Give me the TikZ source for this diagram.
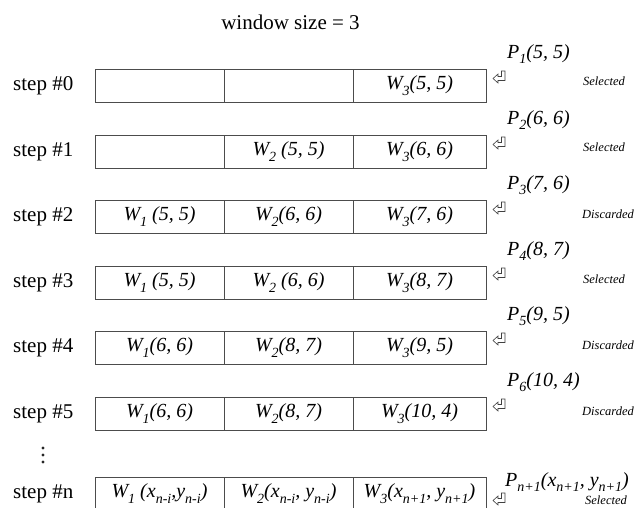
\documentclass[tikz,border=0pt]{standalone}
\usepackage{fontspec}
\setmainfont{Liberation Serif}
\newcommand\lsub[1]{\raisebox{-0.28em}{\fontsize{14}{14}\selectfont #1}}
\begin{document}
\begin{tikzpicture}[x=1pt,y=-1pt,
  cell/.style={draw=black!70, line width=0.8pt, minimum height=33pt, anchor=north west,
    inner sep=0, outer sep=0, font=\fontsize{20}{24}\selectfont\itshape},
  cw/.style={cell, minimum width=129pt},
  cwl/.style={cell, minimum width=133pt},
  lbl/.style={font=\fontsize{21}{24}\selectfont, anchor=west, inner sep=0},
  pl/.style={font=\fontsize{20}{24}\selectfont\itshape, anchor=base west, inner sep=0},
  sl/.style={font=\fontsize{12.5}{14}\selectfont\itshape, inner sep=0},
  dotn/.style={circle, fill=black!85, inner sep=0, minimum size=3.2pt},
  retic/.style={draw=black!75, line width=0.6pt, line join=miter},
  retn/.pic={\draw[retic] (8.5,0) -- (12,0) -- (12,9.5) -- (5,9.5) -- (5,12) -- (0,7.5) -- (5,3) -- (5,5.5) -- (8.5,5.5) -- cycle;}
]
\useasboundingbox (0,0) rectangle (636,507);
\clip (0,0) rectangle (636,507);

\node[font=\fontsize{21}{24}\selectfont, inner sep=0] (title) at (290.5,22) {window size = 3};

% step 0
\node[lbl] (s0) at (13,85.5) {step \#0};
\node[cw] (r0a) at (95,69) {};
\node[cw] (r0b) at (224,69) {};
\node[cwl] (r0c) at (353,69) {W\lsub{3}(5, 5)};
\pic at (493,71) {retn};
\node[pl] (p0) at (507,58) {P\lsub{1}(5, 5)};
\node[sl] (q0) at (604,81) {Selected};

% step 1
\node[lbl] (s1) at (13,151.5) {step \#1};
\node[cw] (r1a) at (95,135) {};
\node[cw] (r1b) at (224,135) {W\lsub{2} (5, 5)};
\node[cwl] (r1c) at (353,135) {W\lsub{3}(6, 6)};
\pic at (493,137) {retn};
\node[pl] (p1) at (507,124) {P\lsub{2}(6, 6)};
\node[sl] (q1) at (604,147) {Selected};

% step 2
\node[lbl] (s2) at (13,216.5) {step \#2};
\node[cw] (r2a) at (95,200) {W\lsub{1} (5, 5)};
\node[cw] (r2b) at (224,200) {W\lsub{2}(6, 6)};
\node[cwl] (r2c) at (353,200) {W\lsub{3}(7, 6)};
\pic at (493,202) {retn};
\node[pl] (p2) at (507,189) {P\lsub{3}(7, 6)};
\node[sl] (q2) at (608,214) {Discarded};

% step 3
\node[lbl] (s3) at (13,282.5) {step \#3};
\node[cw] (r3a) at (95,266) {W\lsub{1} (5, 5)};
\node[cw] (r3b) at (224,266) {W\lsub{2} (6, 6)};
\node[cwl] (r3c) at (353,266) {W\lsub{3}(8, 7)};
\pic at (493,268) {retn};
\node[pl] (p3) at (507,255) {P\lsub{4}(8, 7)};
\node[sl] (q3) at (604,279) {Selected};

% step 4
\node[lbl] (s4) at (13,347.5) {step \#4};
\node[cw] (r4a) at (95,331) {W\lsub{1}(6, 6)};
\node[cw] (r4b) at (224,331) {W\lsub{2}(8, 7)};
\node[cwl] (r4c) at (353,331) {W\lsub{3}(9, 5)};
\pic at (493,333) {retn};
\node[pl] (p4) at (507,320) {P\lsub{5}(9, 5)};
\node[sl] (q4) at (608,345) {Discarded};

% step 5
\node[lbl] (s5) at (13,413.5) {step \#5};
\node[cw] (r5a) at (95,397) {W\lsub{1}(6, 6)};
\node[cw] (r5b) at (224,397) {W\lsub{2}(8, 7)};
\node[cwl] (r5c) at (353,397) {W\lsub{3}(10, 4)};
\pic at (493,399) {retn};
\node[pl] (p5) at (507,386) {P\lsub{6}(10, 4)};
\node[sl] (q5) at (608,411) {Discarded};

% dots
\node[dotn] (d1) at (43,448) {};
\node[dotn] (d2) at (43,455) {};
\node[dotn] (d3) at (43,462) {};

% step n
\node[lbl] (sn) at (13,493.5) {step \#n};
\node[cw] (rna) at (95,477) {W\lsub{1} (x\lsub{n-i},y\lsub{n-i})};
\node[cw] (rnb) at (224,477) {W\lsub{2}(x\lsub{n-i}, y\lsub{n-i})};
\node[cwl] (rnc) at (353,477) {W\lsub{3}(x\lsub{n+1}, y\lsub{n+1})};
\pic at (493,493) {retn};
\node[pl] (pn) at (505,486) {P\lsub{n+1}(x\lsub{n+1}, y\lsub{n+1})};
\node[sl] (qn) at (606,500) {Selected};
\end{tikzpicture}
\end{document}
